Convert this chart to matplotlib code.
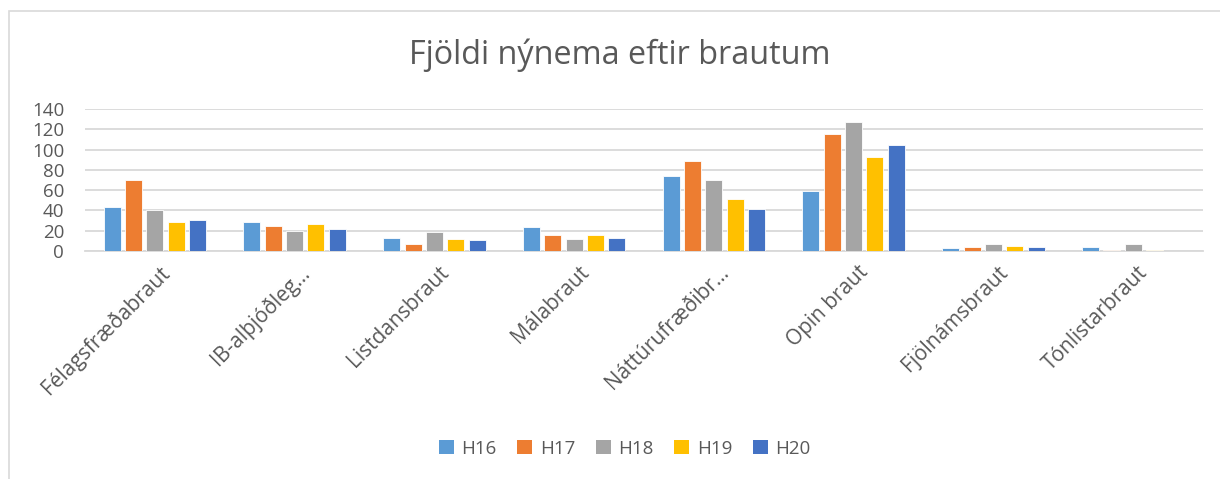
import matplotlib
matplotlib.use("Agg")
import matplotlib.pyplot as plt
import numpy as np
from matplotlib.patches import Patch, Rectangle

plt.rcParams["font.family"] = ["Open Sans", "DejaVu Sans"]

# data
categories = ["Félagsfræðabraut", "IB-alþjóðleg…", "Listdansbraut", "Málabraut",
              "Náttúrufræðibr…", "Opin braut", "Fjölnámsbraut", "Tónlistarbraut"]
series = ["H16", "H17", "H18", "H19", "H20"]
h16 = [43, 29, 13, 24, 74, 59, 3, 4]
h17 = [70, 25, 7, 16, 89, 115, 4, 1]
h18 = [40, 20, 19, 12, 70, 127, 7, 7]
h19 = [29, 27, 12, 16, 51, 93, 5, 1]
h20 = [31, 22, 11, 13, 41, 105, 4, 0]
colors = ["#5B9BD5", "#ED7D31", "#A5A5A5", "#FFC000", "#4472C4"]

text_color = "#595959"
grid_color = "#D9D9D9"

fig = plt.figure(figsize=(12.2, 4.79), dpi=100)
ax = fig.add_axes([85 / 1220, 228 / 479, 1118 / 1220, 142 / 479])

x = np.arange(len(categories))
pitch = 0.1528
width = 0.1216
for i, (name, vals) in enumerate(zip(series, [h16, h17, h18, h19, h20])):
    ax.bar(x + (i - 2) * pitch, vals, width, color=colors[i], label=name,
           edgecolor="white", linewidth=0.6, zorder=3)

ax.set_xlim(-0.5, len(categories) - 0.5)
ax.set_ylim(0, 140)
ax.set_yticks(range(0, 141, 20))
ax.yaxis.grid(True, color=grid_color, linewidth=1.3, zorder=0)
ax.tick_params(axis="y", length=0, pad=15, labelsize=13.5, labelcolor=text_color)
ax.tick_params(axis="x", length=0, pad=8)
for s in ["top", "right", "left"]:
    ax.spines[s].set_visible(False)
ax.spines["bottom"].set_color(grid_color)
ax.spines["bottom"].set_linewidth(1.3)

ax.set_xticks(x + 0.03)
ax.set_xticklabels(categories, rotation=45, ha="right", rotation_mode="anchor",
                   fontsize=15, color=text_color)

fig.text(0.508, 0.885, "Fjöldi nýnema eftir brautum", ha="center", va="center",
         fontsize=23.3, color=text_color)

handles = [Patch(facecolor=c, label=n) for c, n in zip(colors, series)]
fig.legend(handles=handles, loc="center", bbox_to_anchor=(0.512, 0.063), ncol=5,
           frameon=False, fontsize=13.5, handlelength=0.8, handleheight=0.8,
           handletextpad=0.4, columnspacing=1.1, labelcolor=text_color)

# outer chart border (only left and top edges are visible in the crop)
fig.patches.append(Rectangle((9 / 1220, -0.1), 1.2, 1.1 - 11 / 479,
                             transform=fig.transFigure, fill=False,
                             edgecolor=grid_color, linewidth=1.2))

fig.savefig("out.png", dpi=100, facecolor="white")
